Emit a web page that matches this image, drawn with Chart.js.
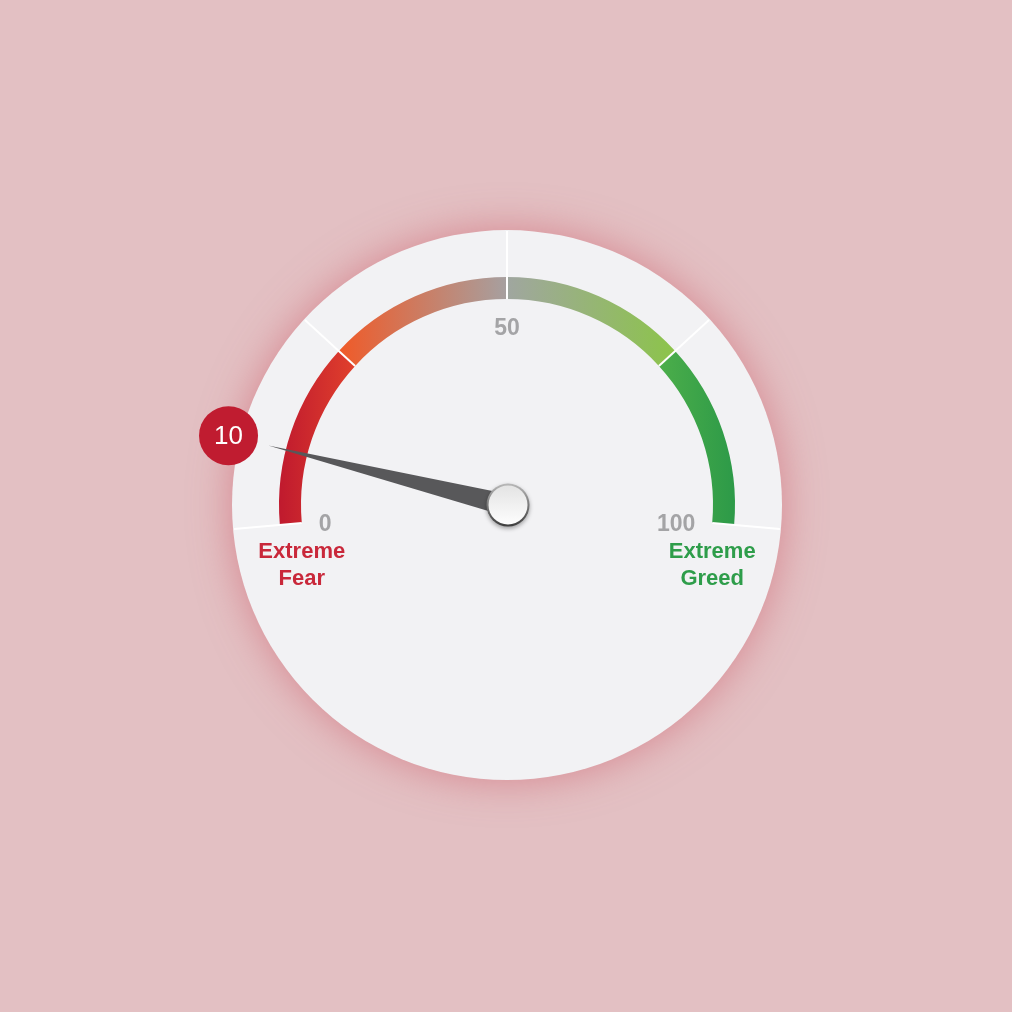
<!DOCTYPE html>
<html><head><meta charset="utf-8">
<script src="https://cdn.jsdelivr.net/npm/chart.js@4"></script>
<style>html,body{margin:0;padding:0;background:#e3c0c3;}canvas{display:block}</style>
</head><body>
<canvas id="c" width="1012" height="1012"></canvas>
<script>
// ---- data ----
const bandLabels = ['Extreme Fear', 'Fear', 'Greed', 'Extreme Greed'];
const bandSizes = [25, 25, 25, 25];
const bandGradients = [
  ['#c01a2e', '#e0402c'],
  ['#f05a28', '#a6a0a0'],
  ['#a0a6a0', '#8cc44a'],
  ['#4cae4a', '#2d9a48']
];
const scaleMin = 0;
const scaleMax = 100;
const tickValues = [0, 50, 100];
const tickLabels = ['0', '50', '100'];
const gaugeValue = 10;
const endLabels = [['Extreme', 'Fear'], ['Extreme', 'Greed']];
const endLabelColors = ['#c9283a', '#2e9d4a'];

const FONT = '"Liberation Sans", Arial, Helvetica, sans-serif';

function geom(chart) {
  const arcs = chart.getDatasetMeta(0).data;
  const f = arcs[0], l = arcs[arcs.length - 1];
  return { cx: f.x, cy: f.y, R: f.outerRadius, r: f.innerRadius, a0: f.startAngle, a1: l.endAngle, arcs };
}
function angleOf(g, v) {
  return g.a0 + (v - scaleMin) / (scaleMax - scaleMin) * (g.a1 - g.a0);
}

const gaugePlugin = {
  id: 'gauge',
  beforeDatasetsDraw(chart) {
    const ctx = chart.ctx;
    const g = geom(chart);
    const faceR = g.R * 275 / 228;
    ctx.save();
    ctx.shadowColor = 'rgba(205,95,108,0.6)';
    ctx.shadowBlur = 40;
    ctx.fillStyle = '#f2f2f4';
    ctx.beginPath();
    ctx.arc(g.cx, g.cy, faceR, 0, Math.PI * 2);
    ctx.fill();
    ctx.restore();
    // per-band horizontal gradients
    g.arcs.forEach((el, i) => {
      const xs = [];
      [el.startAngle, el.endAngle].forEach(a => {
        [el.innerRadius, el.outerRadius].forEach(rr => xs.push(el.x + rr * Math.cos(a)));
      });
      let xmin = Math.min(...xs), xmax = Math.max(...xs);
      if (el.startAngle <= Math.PI && el.endAngle >= Math.PI) xmin = el.x - el.outerRadius;
      if (el.startAngle <= Math.PI * 2 && el.endAngle >= Math.PI * 2) xmax = el.x + el.outerRadius;
      const gr = ctx.createLinearGradient(xmin, 0, xmax, 0);
      gr.addColorStop(0, bandGradients[i][0]);
      gr.addColorStop(1, bandGradients[i][1]);
      try { el.options.backgroundColor = gr; } catch (e) {}
    });
  },
  afterDatasetsDraw(chart) {
    const ctx = chart.ctx;
    const g = geom(chart);
    const faceR = g.R * 275 / 228;
    ctx.save();
    // separators
    const bounds = g.arcs.map(el => el.startAngle).concat([g.a1]);
    ctx.strokeStyle = '#ffffff';
    ctx.lineWidth = 2;
    bounds.forEach(a => {
      ctx.beginPath();
      ctx.moveTo(g.cx + g.r * Math.cos(a), g.cy + g.r * Math.sin(a));
      ctx.lineTo(g.cx + (faceR - 1) * Math.cos(a), g.cy + (faceR - 1) * Math.sin(a));
      ctx.stroke();
    });
    // tick labels
    ctx.font = 'bold 23px ' + FONT;
    ctx.fillStyle = '#a4a4a6';
    tickValues.forEach((v, i) => {
      const a = angleOf(g, v);
      const c = Math.cos(a), s = Math.sin(a);
      const rr = g.R * 189 / 228;
      let x = g.cx + rr * c, y = g.cy + rr * s;
      ctx.textBaseline = 'middle';
      if (c < -0.3) { ctx.textAlign = 'left'; y += 2; }
      else if (c > 0.3) { ctx.textAlign = 'right'; y += 2; }
      else { ctx.textAlign = 'center'; y += 12; }
      ctx.fillText(tickLabels[i], x, y + 1);
    });
    // end labels
    ctx.font = 'bold 22px ' + FONT;
    ctx.textAlign = 'center';
    ctx.textBaseline = 'middle';
    [g.a0, g.a1].forEach((a, k) => {
      const x = g.cx + g.r * Math.cos(a);
      const y = g.cy + g.r * Math.sin(a);
      ctx.fillStyle = endLabelColors[k];
      endLabels[k].forEach((t, j) => ctx.fillText(t, x, y + 29 + j * 27));
    });
    // needle
    const th = angleOf(g, gaugeValue);
    const c = Math.cos(th), s = Math.sin(th);
    const tipR = g.R * 246 / 228;
    const hw = 11;
    ctx.fillStyle = '#58585a';
    ctx.beginPath();
    ctx.moveTo(g.cx + tipR * c, g.cy + tipR * s);
    ctx.lineTo(g.cx - s * hw, g.cy + c * hw);
    ctx.lineTo(g.cx + s * hw, g.cy - c * hw);
    ctx.closePath();
    ctx.fill();
    // knob
    ctx.save();
    ctx.shadowColor = 'rgba(0,0,0,0.35)';
    ctx.shadowBlur = 4;
    ctx.shadowOffsetY = 2;
    const ring = ctx.createLinearGradient(0, g.cy - 21.5, 0, g.cy + 21.5);
    ring.addColorStop(0, '#b8b8b8');
    ring.addColorStop(1, '#3c3c3c');
    ctx.fillStyle = ring;
    ctx.beginPath();
    ctx.arc(g.cx + 1, g.cy, 21.5, 0, Math.PI * 2);
    ctx.fill();
    ctx.restore();
    const inner = ctx.createLinearGradient(0, g.cy - 19, 0, g.cy + 19);
    inner.addColorStop(0, '#e4e4e4');
    inner.addColorStop(1, '#fdfdfd');
    ctx.fillStyle = inner;
    ctx.beginPath();
    ctx.arc(g.cx + 1, g.cy, 19.5, 0, Math.PI * 2);
    ctx.fill();
    // value badge
    const bR = g.R * 287 / 228;
    const bx = g.cx + bR * c, by = g.cy + bR * s;
    ctx.fillStyle = '#c01c30';
    ctx.beginPath();
    ctx.arc(bx, by, 29.5, 0, Math.PI * 2);
    ctx.fill();
    ctx.fillStyle = '#ffffff';
    ctx.font = '26px ' + FONT;
    ctx.textAlign = 'center';
    ctx.textBaseline = 'middle';
    ctx.fillText(String(gaugeValue), bx, by + 1);
    ctx.restore();
  }
};

new Chart(document.getElementById('c'), {
  type: 'doughnut',
  data: {
    labels: bandLabels,
    datasets: [{
      data: bandSizes,
      backgroundColor: bandGradients.map(p => p[0]),
      borderWidth: 0,
      hoverOffset: 0
    }]
  },
  options: {
    responsive: false,
    animation: false,
    rotation: -95,
    circumference: 190,
    radius: 228,
    cutout: '90.35%',
    layout: { padding: { left: 2, right: 0, top: 0, bottom: 210 } },
    events: [],
    plugins: { legend: { display: false }, tooltip: { enabled: false } }
  },
  plugins: [gaugePlugin]
});
</script>
</body></html>
